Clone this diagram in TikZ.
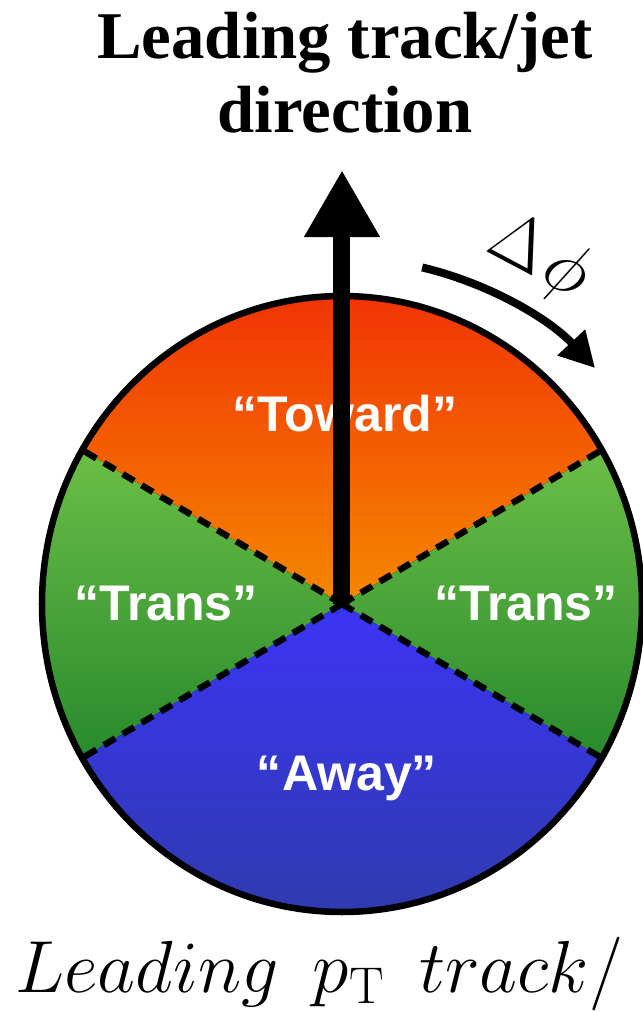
\RequirePackage{fix-cm}
\documentclass[tikz,border=0pt]{standalone}
\usepackage{amsmath}
\usepackage{fontspec}
\newfontfamily\titlefont{Liberation Serif}
\newfontfamily\labelfont{Liberation Sans}
\usetikzlibrary{arrows.meta,calc,positioning}

\definecolor{towardtop}{RGB}{240,40,5}
\definecolor{towardbot}{RGB}{246,136,0}
\definecolor{transtop}{RGB}{108,190,70}
\definecolor{transbot}{RGB}{40,138,45}
\definecolor{awaytop}{RGB}{60,52,245}
\definecolor{awaybot}{RGB}{45,60,165}

\begin{document}
\begin{tikzpicture}[
    regionlabel/.style={text=white,font=\labelfont\bfseries\fontsize{28.5}{30}\selectfont,inner sep=0pt},
    sectorline/.style={line width=3.6pt,dash pattern=on 7.5pt off 5pt}
  ]
  \useasboundingbox (-6.84,-8.14) rectangle (6.02,12.08);
  \clip (-6.84,-8.14) rectangle (6.02,12.08);
  \coordinate (O) at (0,0);
  % the three regions
  \fill[top color=towardtop,bottom color=towardbot] (O) -- (30:6 and 6.16) arc[start angle=30,end angle=150,x radius=6,y radius=6.16] -- cycle;
  \fill[top color=transtop,bottom color=transbot] (O) -- (150:6 and 6.16) arc[start angle=150,end angle=210,x radius=6,y radius=6.16] -- cycle;
  \fill[top color=transtop,bottom color=transbot] (O) -- (-30:6 and 6.16) arc[start angle=-30,end angle=30,x radius=6,y radius=6.16] -- cycle;
  \fill[top color=awaytop,bottom color=awaybot] (O) -- (210:6 and 6.16) arc[start angle=210,end angle=330,x radius=6,y radius=6.16] -- cycle;
  \foreach \a in {30,150,210,330}
    \draw[sectorline] (O) -- (\a:6 and 6.16);
  \draw[line width=0.13cm] (O) ellipse[x radius=6,y radius=6.16];
  % labels
  \node[regionlabel] (toward) at (0.06,3.8) {“Toward”};
  \node[regionlabel] (transL) at (-3.52,0) {“Trans”};
  \node[regionlabel] (transR) at (3.68,0) {“Trans”};
  \node[regionlabel] (away) at (0.1,-3.48) {“Away”};
  % leading direction
  \coordinate (tip) at (0,8.68);
  \draw[line width=0.34cm,-{Triangle[length=1.34cm,width=1.42cm]}] (O) -- (tip);
  \node[font=\titlefont\bfseries\fontsize{38}{42}\selectfont,align=center,anchor=north,inner sep=0pt] (title) at (0.06,11.84) {Leading track/jet\\direction};
  \coordinate (dphistart) at (76.6:6.92);
  \draw[line width=0.16cm,-{Triangle[length=0.7cm,width=0.72cm]}] (dphistart) arc[start angle=76.6,end angle=43,radius=6.92];
  \node[rotate=-28,font=\fontsize{42}{44}\selectfont] (dphi) at (3.95,6.9) {$\Delta\mkern1mu\phi$};
  \node[anchor=base west,inner sep=0pt,font=\fontsize{42}{44}\selectfont] (caption) at (-6.54,-7.76) {$Leading\ \,p_{\mathrm{T}}\ \,track/$};
\end{tikzpicture}
\end{document}
